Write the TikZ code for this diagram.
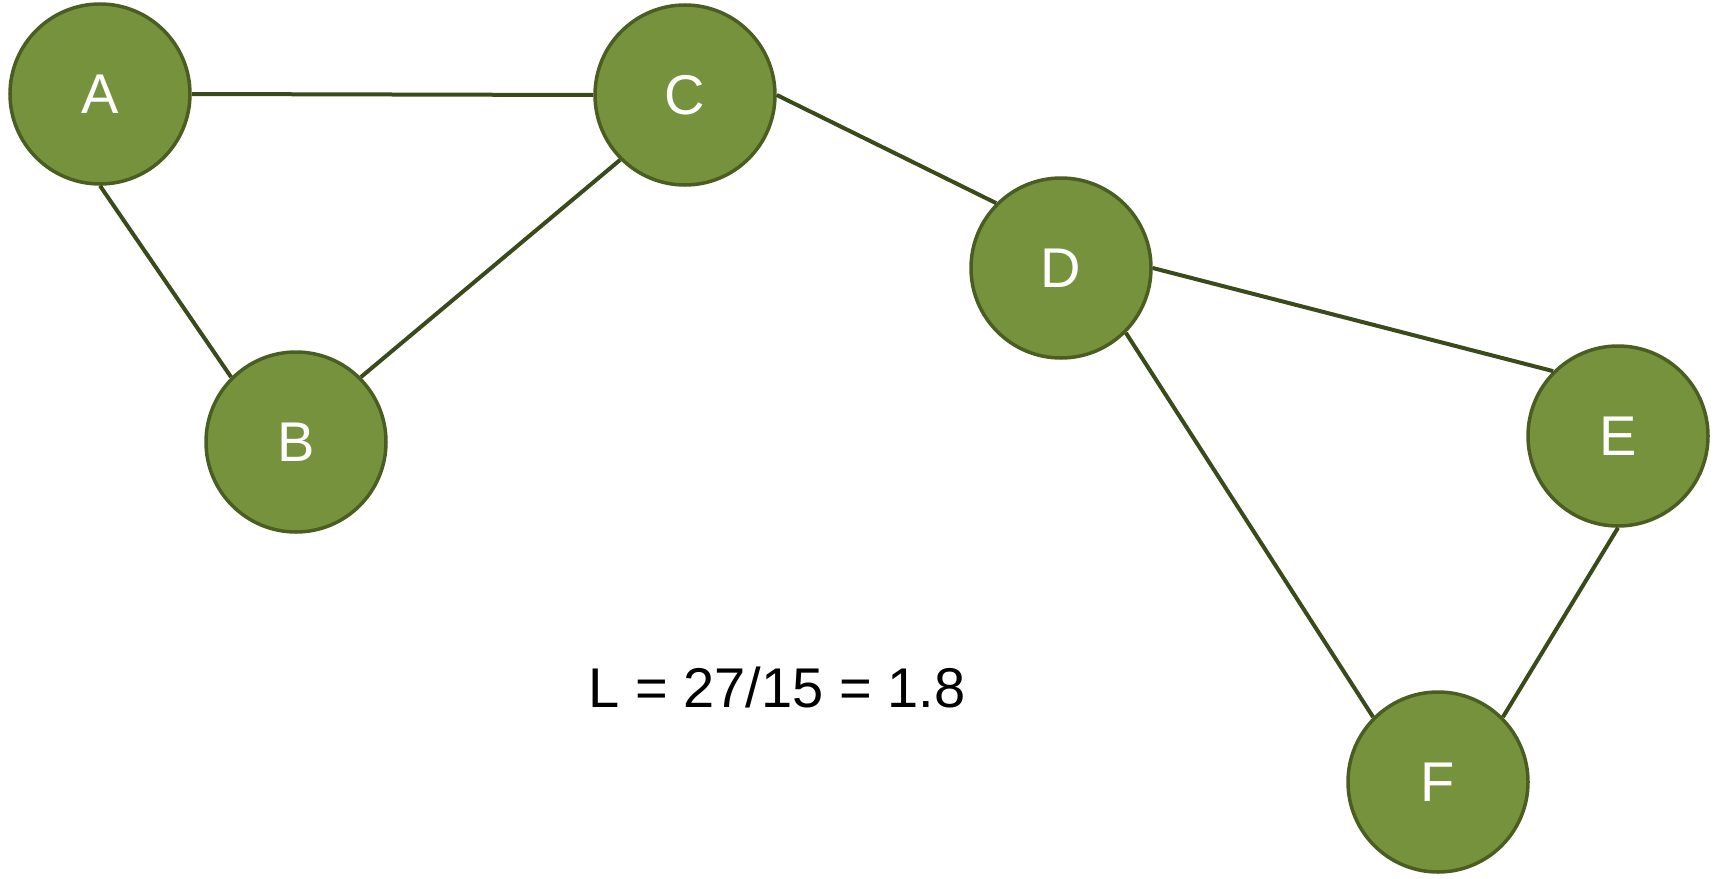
\documentclass[tikz,border=0pt]{standalone}
\usepackage{fontspec}
\setmainfont{Liberation Sans}
\definecolor{nodefill}{HTML}{77923C}
\definecolor{nodeedge}{HTML}{4A5E22}
\definecolor{edgecol}{HTML}{3A4A1A}
\begin{document}
\begin{tikzpicture}[x=1pt,y=-1pt,
  vertex/.style={circle,fill=nodefill,draw=nodeedge,line width=3.5pt,minimum size=180pt,inner sep=0pt,text=white,font=\fontsize{56}{60}\selectfont},
  link/.style={draw=edgecol,line width=4pt}]
\useasboundingbox (0,0) rectangle (1718,878);
\node[vertex] (A) at (100,94) {A};
\node[vertex] (C) at (685,95) {C};
\node[vertex] (B) at (296,442) {B};
\node[vertex] (D) at (1061,268) {D};
\node[vertex] (E) at (1618,436) {E};
\node[vertex] (F) at (1438,782) {F};
\draw[link] (A.east) -- (C.west);
\draw[link] (A.south) -- (B.135);
\draw[link] (B.45) -- (C.225);
\draw[link] (C.east) -- (D.135);
\draw[link] (D.east) -- (E.135);
\draw[link] (D.-45) -- (F.135);
\draw[link] (E.south) -- (F.45);
\node[font=\fontsize{56}{60}\selectfont,anchor=base] (L) at (777,707) {L = 27/15 = 1.8};
\end{tikzpicture}
\end{document}
